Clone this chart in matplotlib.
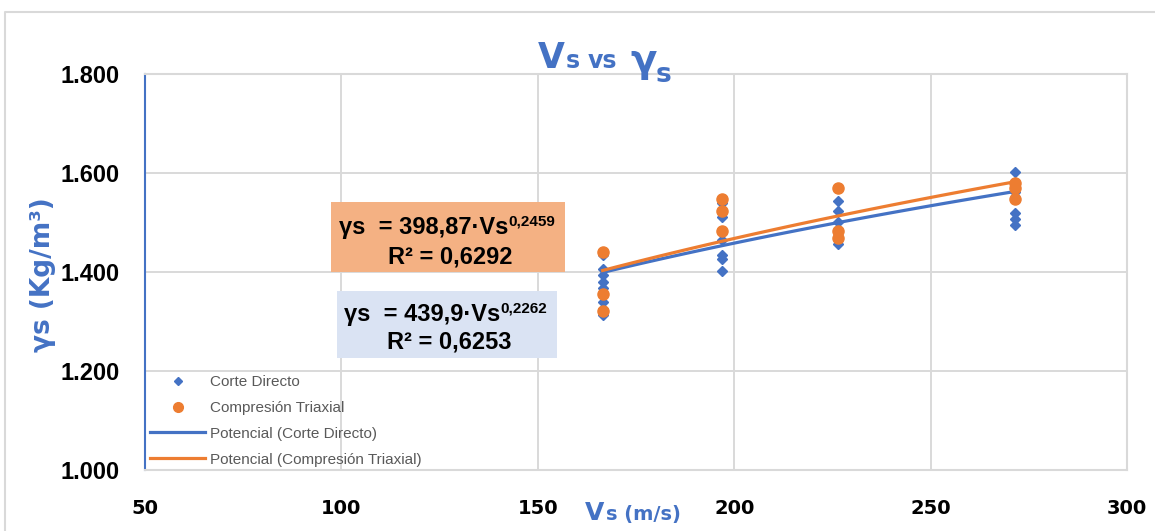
import matplotlib
matplotlib.use('Agg')
import matplotlib.pyplot as plt
from matplotlib.lines import Line2D
from matplotlib.patches import Rectangle
from matplotlib.text import Annotation
import numpy as np

W, H = 1155, 531

BLUE = '#4472C4'
ORANGE = '#ED7D31'
GRID = '#D9D9D9'

# Vs (m/s) and unit weight (kg/m3) per test
vs_corte = [166.5] * 9 + [196.8] * 6 + [226.5] * 5 + [271.5] * 5
gs_corte = [1434, 1407, 1394, 1380, 1367, 1355, 1340, 1325, 1313,
            1539, 1512, 1465, 1434, 1426, 1403,
            1543, 1524, 1502, 1485, 1457,
            1603, 1562, 1519, 1508, 1495]

vs_triax = [166.5] * 3 + [196.8] * 3 + [226.5] * 3 + [271.5] * 3
gs_triax = [1441, 1355, 1322,
            1547, 1523, 1483,
            1569, 1483, 1468,
            1579, 1570, 1547]

# power trendlines  y = a * x^b
fit_corte = (439.9, 0.2262, 0.6253)
fit_triax = (398.87, 0.2459, 0.6292)

x_ticks = [50, 100, 150, 200, 250, 300]
y_ticks = [1000, 1200, 1400, 1600, 1800]


def px(x, y):
    return x / W, 1 - y / H


def trend(xs, fit):
    xx = np.linspace(min(xs), max(xs), 100)
    return xx, fit[0] * xx ** fit[1]


fig = plt.figure(figsize=(W / 100, H / 100), dpi=100)
ax = fig.add_axes([145 / W, 1 - 470 / H, (1127 - 145) / W, (470 - 74) / H])

ax.plot(vs_corte, gs_corte, linestyle='none', marker='D', ms=5.5,
        color=BLUE, label='Corte Directo', zorder=3)
xc, yc = trend(vs_corte, fit_corte)
xt, yt = trend(vs_triax, fit_triax)
ax.plot(vs_triax, gs_triax, linestyle='none', marker='o', ms=8,
        color=ORANGE, label='Compresión Triaxial', zorder=5)
ax.plot(xc, yc, color=BLUE, lw=2.3, label='Potencial (Corte Directo)', zorder=4)
ax.plot(xt, yt, color=ORANGE, lw=2.3,
        label='Potencial (Compresión Triaxial)', zorder=4)

ax.set_xlim(50, 300)
ax.set_ylim(1000, 1800)
ax.set_xticks(x_ticks)
ax.set_yticks(y_ticks)
ax.set_yticklabels([f'{v:,.0f}'.replace(',', '.') for v in y_ticks],
                   fontfamily='Liberation Sans', fontweight='bold', fontsize=17)
ax.set_xticklabels([str(v) for v in x_ticks],
                   fontfamily='DejaVu Sans', fontweight='bold', fontsize=14)
ax.tick_params(axis='both', length=0)
ax.tick_params(axis='y', pad=18)
ax.tick_params(axis='x', pad=21)
ax.grid(True, color=GRID, lw=1.4)
ax.set_axisbelow(True)
for side in ['top', 'right', 'bottom']:
    ax.spines[side].set_color(GRID)
    ax.spines[side].set_linewidth(1.5)
ax.spines['left'].set_color(BLUE)
ax.spines['left'].set_linewidth(1.5)

leg = ax.legend(loc='upper left', bbox_to_anchor=px(150, 375),
                bbox_transform=fig.transFigure, frameon=False,
                handlelength=3.6, handletextpad=0.3,
                labelspacing=0.78, borderpad=0, borderaxespad=0,
                numpoints=1, prop={'family': 'Liberation Sans', 'size': 11})
for t in leg.get_texts():
    t.set_color('#595959')
leg.legend_handles[0].set_markersize(4.5)
leg.legend_handles[1].set_markersize(7)

# equation boxes
boxes = [
    (fit_triax, '#F4B183', (331, 202, 565, 272), 339, '398,87', 234, 263),
    (fit_corte, '#DAE3F3', (337, 291, 557, 358), 344, '439,9', 321, 349),
]
for fit, fc, (x0, y0, x1, y1), tx, a_txt, b1, b2 in boxes:
    fig.patches.append(Rectangle(px(x0, y1), (x1 - x0) / W, (y1 - y0) / H,
                                 transform=fig.transFigure, facecolor=fc,
                                 edgecolor='none', zorder=6))
    main = fig.text(*px(tx, b1), f'γs  = {a_txt}·Vs', fontsize=17,
                    fontweight='bold', family='Liberation Sans',
                    va='baseline', ha='left', zorder=7)
    exp_txt = f'{fit[1]:.4f}'.replace('.', ',')
    fig.add_artist(Annotation(exp_txt, xy=(1.0, 1.05), xycoords=main,
                              ha='left', va='top', fontsize=11,
                              fontweight='bold', family='Liberation Sans',
                              zorder=7))
    r2_txt = f'R² = {fit[2]:.4f}'.replace('.', ',')
    fig.text(*px((x0 + x1) / 2 + 2, b2), r2_txt, fontsize=17,
             fontweight='bold', family='Liberation Sans', va='baseline',
             ha='center', zorder=7)

# title
tkw = dict(color=BLUE, fontweight='bold', family='DejaVu Sans', va='baseline')
fig.text(*px(538, 68), 'V', fontsize=25, **tkw)
fig.text(*px(566, 68), 's', fontsize=17, **tkw)
fig.text(*px(588, 68), 'vs', fontsize=17, **tkw)
fig.text(*px(630, 72), 'γ', fontsize=28, **tkw)
fig.text(*px(656, 82), 's', fontsize=19, **tkw)

# axis labels
fig.text(*px(585, 520), 'V', fontsize=18, **tkw)
fig.text(*px(606, 520), 's (m/s)', fontsize=14, **tkw)
fig.text(*px(43, 275), 'γs (Kg/m³)', fontsize=19, color=BLUE,
         fontweight='bold', family='DejaVu Sans', rotation=90,
         ha='center', va='center')

# chart area frame
fig.add_artist(Line2D([5 / W, 5 / W, 1.0], [0.0, 1 - 12 / H, 1 - 12 / H],
                      transform=fig.transFigure, color=GRID, lw=1.5))

fig.savefig('out.png', dpi=100)
